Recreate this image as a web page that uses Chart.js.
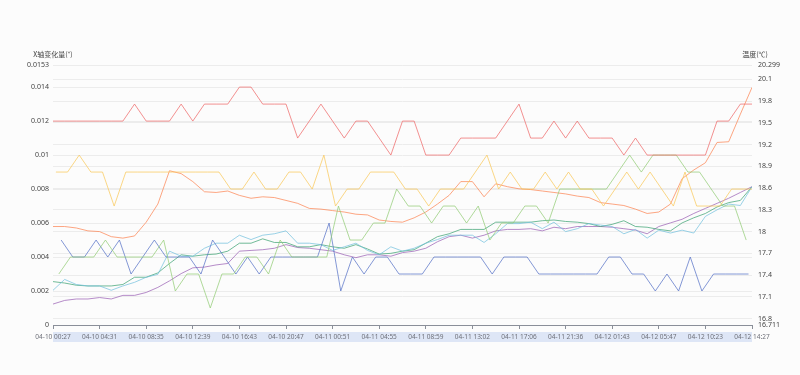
<!DOCTYPE html>
<html>
<head>
<meta charset="utf-8">
<script src="https://cdn.jsdelivr.net/npm/chart.js@4.4.1/dist/chart.umd.min.js"></script>
<style>
  html, body { margin: 0; padding: 0; background: #fcfcfc; }
  #wrap { width: 800px; height: 375px; position: relative; }
</style>
</head>
<body>
<div id="wrap"><canvas id="tempChart"></canvas></div>
<script>
const times = [
  '04-10 00:27','04-10 01:28','04-10 02:29','04-10 03:30','04-10 04:31','04-10 05:32','04-10 06:33','04-10 07:34',
  '04-10 08:35','04-10 09:36','04-10 10:37','04-10 11:38','04-10 12:39','04-10 13:40','04-10 14:41','04-10 15:42',
  '04-10 16:43','04-10 17:44','04-10 18:45','04-10 19:46','04-10 20:47','04-10 21:48','04-10 22:49','04-10 23:50',
  '04-11 00:51','04-11 01:52','04-11 02:53','04-11 03:54','04-11 04:55','04-11 05:56','04-11 06:57','04-11 07:58',
  '04-11 08:59','04-11 10:00','04-11 11:00','04-11 12:01','04-11 13:02','04-11 14:03','04-11 15:04','04-11 16:05',
  '04-11 17:06','04-11 18:14','04-11 19:22','04-11 20:29','04-11 21:36','04-11 22:38','04-11 23:40','04-12 00:41',
  '04-12 01:43','04-12 02:44','04-12 03:45','04-12 04:46','04-12 05:47','04-12 06:56','04-12 08:05','04-12 09:14',
  '04-12 10:23','04-12 11:24','04-12 12:25','04-12 13:26','04-12 14:27'
];

const labelEvery = 4;
const leftTicks = [0, 0.002, 0.004, 0.006, 0.008, 0.01, 0.012, 0.014, 0.0153];
const rightTicks = [16.711, 16.8, 17.1, 17.4, 17.7, 18, 18.3, 18.6, 18.9, 19.2, 19.5, 19.8, 20.1, 20.299];

// X轴变化量 (left axis)
const redX = [0.012,0.012,0.012,0.012,0.012,0.012,0.012,0.013,0.012,0.012,
  0.012,0.013,0.012,0.013,0.013,0.013,0.014,0.014,0.013,0.013,
  0.013,0.011,0.012,0.013,0.012,0.011,0.012,0.012,0.011,0.010,
  0.012,0.012,0.010,0.010,0.010,0.011,0.011,0.011,0.011,0.012,
  0.013,0.011,0.011,0.012,0.011,0.012,0.011,0.011,0.011,0.010,
  0.011,0.010,0.010,0.010,0.010,0.010,0.010,0.012,0.012,0.013,
  0.013];
const yellowX = [0.009,0.009,0.010,0.009,0.009,0.007,0.009,0.009,0.009,0.009,
  0.009,0.009,0.009,0.009,0.009,0.008,0.008,0.009,0.008,0.008,
  0.009,0.009,0.008,0.010,0.007,0.008,0.008,0.009,0.009,0.009,
  0.008,0.008,0.007,0.008,0.008,0.008,0.009,0.010,0.008,0.009,
  0.008,0.008,0.009,0.008,0.009,0.008,0.008,0.007,0.008,0.009,
  0.008,0.009,0.008,0.007,0.009,0.007,0.007,0.007,0.008,0.008,
  0.008];
const greenX = [0.003,0.004,0.004,0.004,0.005,0.004,0.004,0.004,0.004,0.005,
  0.002,0.003,0.003,0.001,0.003,0.003,0.004,0.004,0.003,0.005,
  0.004,0.004,0.004,0.004,0.007,0.005,0.005,0.006,0.006,0.008,
  0.007,0.007,0.006,0.007,0.007,0.006,0.007,0.005,0.006,0.006,
  0.007,0.007,0.006,0.008,0.008,0.008,0.008,0.008,0.009,0.010,
  0.009,0.010,0.010,0.010,0.009,0.009,0.008,0.007,0.007,0.005];
const blueX = [0.005,0.004,0.004,0.005,0.004,0.005,0.003,0.004,0.005,0.004,
  0.004,0.004,0.003,0.005,0.004,0.003,0.004,0.003,0.004,0.004,
  0.004,0.004,0.004,0.006,0.002,0.004,0.003,0.004,0.004,0.003,
  0.003,0.003,0.004,0.004,0.004,0.004,0.004,0.003,0.004,0.004,
  0.004,0.003,0.003,0.003,0.003,0.003,0.003,0.004,0.004,0.003,
  0.003,0.002,0.003,0.002,0.004,0.002,0.003,0.003,0.003,0.003];

// 温度 (right axis)
const orangeT = [18.07,18.07,18.05,18.01,18.00,17.93,17.91,17.94,18.13,18.38,
  18.84,18.80,18.69,18.55,18.54,18.56,18.50,18.46,18.48,18.47,
  18.43,18.39,18.32,18.31,18.29,18.27,18.24,18.23,18.16,18.14,
  18.13,18.19,18.27,18.38,18.50,18.69,18.69,18.48,18.66,18.62,
  18.59,18.58,18.56,18.54,18.52,18.49,18.47,18.40,18.38,18.36,
  18.31,18.25,18.27,18.38,18.73,18.85,18.95,19.23,19.24,19.62,
  19.99];
const lightBlueT = [17.19,17.34,17.27,17.25,17.25,17.19,17.25,17.30,17.37,17.41,
  17.73,17.66,17.66,17.77,17.84,17.84,17.95,17.89,17.95,17.97,
  18.01,17.84,17.84,17.82,17.74,17.79,17.84,17.74,17.68,17.79,
  17.73,17.77,17.84,17.89,17.95,17.95,17.95,17.85,17.97,18.11,
  18.11,18.13,18.04,18.13,18.00,18.04,18.11,18.09,18.07,17.97,
  18.03,17.91,18.02,17.98,18.02,17.98,18.21,18.30,18.38,18.36,
  18.62];
const tealT = [17.31,17.29,17.26,17.25,17.25,17.25,17.27,17.37,17.37,17.43,
  17.56,17.68,17.66,17.68,17.69,17.73,17.84,17.84,17.90,17.85,
  17.85,17.79,17.79,17.82,17.79,17.77,17.82,17.76,17.69,17.70,
  17.73,17.75,17.84,17.93,17.97,18.03,18.03,18.03,18.13,18.13,
  18.13,18.13,18.15,18.16,18.14,18.13,18.11,18.07,18.10,18.15,
  18.07,18.06,18.03,18.01,18.12,18.19,18.25,18.34,18.40,18.43,
  18.62];
const purpleT = [17.00,17.05,17.07,17.07,17.09,17.07,17.12,17.12,17.16,17.23,
  17.32,17.42,17.50,17.51,17.54,17.56,17.73,17.74,17.75,17.77,
  17.82,17.78,17.77,17.75,17.73,17.68,17.64,17.68,17.68,17.66,
  17.71,17.73,17.77,17.86,17.93,17.95,17.91,17.95,18.01,18.03,
  18.03,18.04,18.01,18.06,18.04,18.07,18.07,18.07,18.06,18.04,
  18.02,17.97,18.07,18.12,18.17,18.25,18.32,18.39,18.46,18.54,
  18.62];

// sensors do not report at the same moment: lag as a fraction of one sampling step
const lagYellow = 0.25;
const lagGreen = 0.5;
const lagBlue = 0.7;

const line = (label, values, lag, color, axis) => ({
  label, yAxisID: axis,
  data: values.map((v, i) => ({ x: i + lag, y: v })),
  borderColor: color, backgroundColor: color,
  borderWidth: 1, pointRadius: 0, tension: 0
});

// axis names and the slider band under the x labels
const decor = {
  id: 'decor',
  beforeDraw(chart) {
    const { ctx, chartArea } = chart;
    ctx.save();
    ctx.fillStyle = 'rgba(196,212,240,0.55)';
    ctx.fillRect(chartArea.left, chartArea.bottom + 7, chartArea.right - chartArea.left, 10);
    ctx.restore();
  },
  afterDraw(chart) {
    const { ctx, chartArea } = chart;
    ctx.save();
    ctx.font = '7px "Noto Sans CJK SC", sans-serif';
    ctx.fillStyle = '#444';
    ctx.textAlign = 'center';
    ctx.textBaseline = 'middle';
    ctx.fillText('X轴变化量(°)', chartArea.left, 54);
    ctx.fillText('温度(℃)', chartArea.right + 3, 54);
    ctx.restore();
  }
};

Chart.defaults.font.family = '"Noto Sans", "Noto Sans CJK SC", sans-serif';
Chart.defaults.animation = false;

new Chart(document.getElementById('tempChart'), {
  type: 'line',
  data: {
    datasets: [
      line('1# X轴变化量', redX, 0, 'rgba(238,102,102,0.72)', 'yL'),
      line('2# X轴变化量', yellowX, lagYellow, 'rgba(250,200,88,0.72)', 'yL'),
      line('3# X轴变化量', greenX, lagGreen, 'rgba(145,204,117,0.72)', 'yL'),
      line('4# X轴变化量', blueX, lagBlue, 'rgba(84,112,198,0.72)', 'yL'),
      line('1# 温度', orangeT, 0, 'rgba(252,132,82,0.72)', 'yR'),
      line('2# 温度', lightBlueT, 0, 'rgba(115,192,222,0.72)', 'yR'),
      line('3# 温度', tealT, 0, 'rgba(59,162,114,0.72)', 'yR'),
      line('4# 温度', purpleT, 0, 'rgba(154,96,180,0.72)', 'yR')
    ]
  },
  options: {
    responsive: true,
    maintainAspectRatio: false,
    layout: { padding: { top: 65, left: 0, right: 0, bottom: 0 } },
    plugins: { legend: { display: false }, tooltip: { enabled: false } },
    scales: {
      x: {
        type: 'linear', min: 0, max: times.length - 1,
        grid: { drawOnChartArea: false, tickLength: 4, color: '#8a8f99' },
        border: { color: '#8a8f99' },
        afterBuildTicks: (s) => {
          s.ticks = times.map((t, i) => i).filter(i => i % labelEvery === 0).map(v => ({ value: v }));
        },
        afterFit: (s) => { s.height = 50; },
        ticks: {
          autoSkip: false, maxRotation: 0, padding: 4,
          color: '#6e7079', font: { size: 6.5 },
          callback: (v) => times[v]
        }
      },
      yL: {
        position: 'left', min: 0, max: 0.0153,
        grid: { color: '#ececec', drawTicks: false },
        border: { display: false },
        afterBuildTicks: (s) => { s.ticks = leftTicks.map(v => ({ value: v })); },
        afterFit: (s) => { s.width = 53; },
        ticks: { padding: 4, color: '#444', font: { size: 7 }, callback: (v) => String(v) }
      },
      yR: {
        position: 'right', min: 16.711, max: 20.299,
        grid: { color: '#ececec', drawTicks: false },
        border: { display: false },
        afterBuildTicks: (s) => { s.ticks = rightTicks.map(v => ({ value: v })); },
        afterFit: (s) => { s.width = 48; },
        ticks: { padding: 6, color: '#444', font: { size: 7 }, callback: (v) => String(v) }
      }
    }
  },
  plugins: [decor]
});
</script>
</body>
</html>
